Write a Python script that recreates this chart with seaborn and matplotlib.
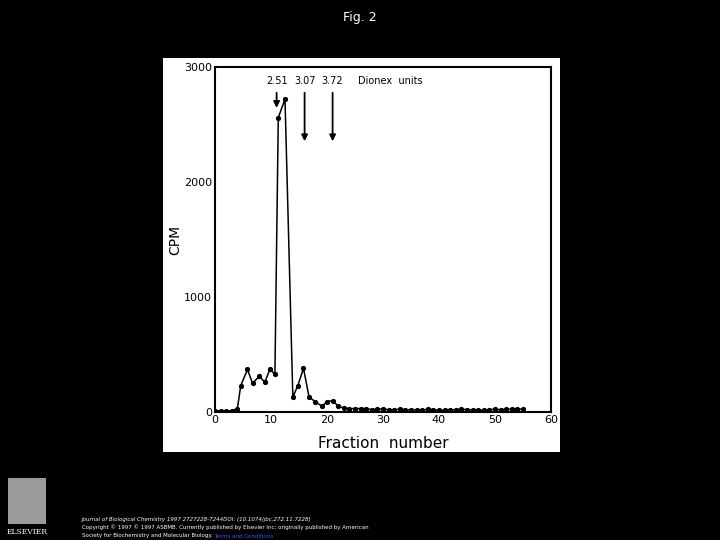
import matplotlib

matplotlib.use("Agg")
import matplotlib.pyplot as plt  # noqa: E402
import pandas as pd  # noqa: E402
import seaborn as sns  # noqa: E402
from matplotlib.patches import Rectangle  # noqa: E402
from matplotlib.ticker import MultipleLocator  # noqa: E402

# fraction positions and counts
fraction = [0, 1, 2, 3, 4, 4.6, 5.8, 6.7, 7.9, 8.9, 9.8, 10.7, 11.3, 12.5,
            13.9, 14.8, 15.8, 16.8, 17.9, 19.1, 20, 21, 22,
            23, 24, 25, 26, 27, 28, 29, 30, 31, 32, 33, 34, 35, 36, 37, 38,
            39, 40, 41, 42, 43, 44, 45, 46, 47, 48, 49, 50, 51, 52, 53, 54, 55]
cpm = [10, 10, 10, 10, 30, 230, 370, 250, 310, 260, 370, 330, 2560, 2720,
       130, 230, 380, 130, 90, 50, 90, 100, 50,
       35, 30, 30, 30, 30, 20, 25, 25, 20, 20, 25, 20, 20, 20, 15, 25,
       20, 15, 15, 20, 20, 25, 20, 20, 15, 15, 20, 25, 20, 25, 25, 25, 25]

arrow_x = [11, 16, 21]
arrow_labels = ["2.51", "3.07", "3.72"]
arrow_tip = [2620, 2330, 2330]

df = pd.DataFrame({"fraction": fraction, "cpm": cpm})

sns.set_style("white")
plt.rcParams["font.family"] = ["DejaVu Sans"]

fig = plt.figure(figsize=(7.2, 5.4), dpi=100)
fig.patch.set_facecolor("black")

# white scanned panel, behind the axes
fig.patches.append(Rectangle((163 / 720, 1 - 452 / 540), 397 / 720, 394 / 540,
                             transform=fig.transFigure, facecolor="white",
                             edgecolor="none", zorder=-5))

ax = fig.add_axes([215 / 720, 1 - 412 / 540, 336 / 720, 345 / 540])
ax.set_zorder(2)
ax.set_facecolor("white")
sns.lineplot(data=df, x="fraction", y="cpm", ax=ax, color="black", lw=1.1,
             marker="o", markersize=3, markeredgecolor="black")

ax.set_xlim(0, 60)
ax.set_ylim(0, 3000)
ax.xaxis.set_major_locator(MultipleLocator(10))
ax.xaxis.set_minor_locator(MultipleLocator(5))
ax.yaxis.set_major_locator(MultipleLocator(1000))
ax.yaxis.set_minor_locator(MultipleLocator(500))
ax.tick_params(which="both", direction="in", width=1.3, color="black",
               labelsize=8, labelcolor="black", pad=2)
ax.tick_params(which="major", length=5)
ax.tick_params(which="minor", length=4)
for s in ax.spines.values():
    s.set_color("black")
    s.set_linewidth(1.5)
    s.set_visible(True)

ax.set_xlabel("Fraction  number", fontsize=11, color="black", labelpad=8)
ax.set_ylabel("CPM", fontsize=10, color="black", labelpad=1)

for x, lab, tip in zip(arrow_x, arrow_labels, arrow_tip):
    ax.text(x, 2880, lab, ha="center", va="center", fontsize=7, color="black")
    ax.annotate("", xy=(x, tip), xytext=(x, 2800),
                arrowprops=dict(arrowstyle="-|>", color="black", lw=1.3,
                                mutation_scale=9))
ax.text(25.5, 2880, "Dionex  units", ha="left", va="center", fontsize=7,
        color="black")

fig.text(0.5, 1 - 18 / 540, "Fig. 2", ha="center", va="center", color="white",
         fontsize=9)

fs = 4.0
fig.text(82 / 720, 1 - 519 / 540,
         "Journal of Biological Chemistry 1997 2727228-7244DOI: (10.1074/jbc.272.11.7228)",
         color="white", fontsize=fs, ha="left", va="center", style="italic")
fig.text(82 / 720, 1 - 527 / 540,
         "Copyright © 1997 © 1997 ASBMB. Currently published by Elsevier Inc; originally published by American",
         color="white", fontsize=fs, ha="left", va="center")
t = fig.text(82 / 720, 1 - 536 / 540,
             "Society for Biochemistry and Molecular Biology. ",
             color="white", fontsize=fs, ha="left", va="center")
fig.canvas.draw()
bb = t.get_window_extent()
fig.text(bb.x1 / 720, 1 - 536 / 540, "Terms and Conditions", color="#3355ff",
         fontsize=fs, ha="left", va="center")

fig.patches.append(Rectangle((8 / 720, 1 - 524 / 540), 38 / 720, 46 / 540,
                             transform=fig.transFigure, facecolor="#9a9a9a",
                             edgecolor="none"))
fig.text(27 / 720, 1 - 532 / 540, "ELSEVIER", color="white", fontsize=5.5,
         ha="center", va="center", family="serif")

fig.savefig("out.png", dpi=100, facecolor=fig.get_facecolor())
